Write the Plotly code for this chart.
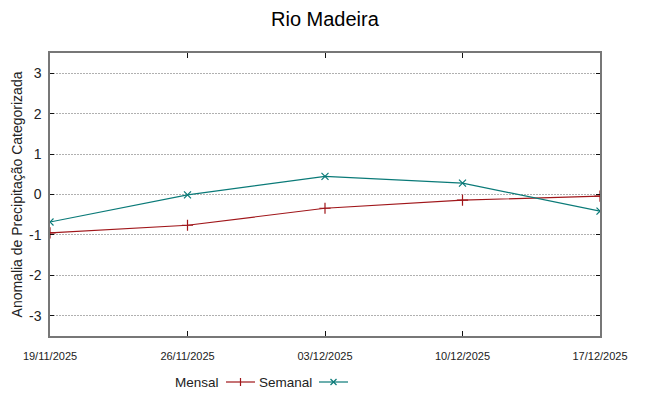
import plotly.graph_objects as go

dates = ["2025-11-19", "2025-11-26", "2025-12-03", "2025-12-10", "2025-12-17"]
tick_labels = ["19/11/2025", "26/11/2025", "03/12/2025", "10/12/2025", "17/12/2025"]
mensal = [-0.95, -0.76, -0.34, -0.14, -0.04]
semanal = [-0.68, -0.01, 0.45, 0.28, -0.41]
y_ticks = [-3, -2, -1, 0, 1, 2, 3]
y_tick_labels = ["-3", "-2", "-1", "0", "1", "2", "3"]

RED = "#a0161a"
TEAL = "#0a7a78"
FONT = "Liberation Sans"
NARROW = "Liberation Sans Narrow, Liberation Sans"

# plot area in pixels (for paper-coordinate conversions of legend/title)
L, R, T, B = 50, 600, 53, 336
W, H = R - L, B - T


def px(xp):
    return (xp - L) / W


def py(yp):
    return (B - yp) / H


fig = go.Figure()
fig.add_trace(go.Scatter(x=dates, y=mensal, mode="lines+markers", name="Mensal",
                         line=dict(color=RED, width=1.2),
                         marker=dict(symbol="cross-thin", size=8, line=dict(color=RED, width=1.2)),
                         showlegend=False))
fig.add_trace(go.Scatter(x=dates, y=semanal, mode="lines+markers", name="Semanal",
                         line=dict(color=TEAL, width=1.2),
                         marker=dict(symbol="x-thin", size=7, line=dict(color=TEAL, width=1.2)),
                         showlegend=False))

# manual gnuplot-style legend (text then sample line with marker)
LEG_Y = 382
legend_items = [("Mensal", RED, "+", 221, 226, 255),
                ("Semanal", TEAL, "x", 314, 319, 348)]
for name, col, sym, tx, x0, x1 in legend_items:
    fig.add_annotation(x=px(tx), y=py(LEG_Y), xref="paper", yref="paper", text=name,
                       showarrow=False, xanchor="right", yanchor="middle",
                       font=dict(family=NARROW, size=13.5, color="#222222"))
    fig.add_shape(type="line", xref="paper", yref="paper",
                  x0=px(x0), x1=px(x1), y0=py(LEG_Y), y1=py(LEG_Y),
                  line=dict(color=col, width=1.2))
    cx = (x0 + x1) / 2
    if sym == "+":
        fig.add_shape(type="line", xref="paper", yref="paper",
                      x0=px(cx), x1=px(cx), y0=py(LEG_Y - 4), y1=py(LEG_Y + 4),
                      line=dict(color=col, width=1.2))
    else:
        fig.add_shape(type="line", xref="paper", yref="paper",
                      x0=px(cx - 3), x1=px(cx + 3), y0=py(LEG_Y - 3), y1=py(LEG_Y + 3),
                      line=dict(color=col, width=1.2))
        fig.add_shape(type="line", xref="paper", yref="paper",
                      x0=px(cx - 3), x1=px(cx + 3), y0=py(LEG_Y + 3), y1=py(LEG_Y - 3),
                      line=dict(color=col, width=1.2))

fig.add_annotation(x=0.5, y=py(19), xref="paper", yref="paper", text="Rio Madeira",
                   showarrow=False, xanchor="center", yanchor="middle",
                   font=dict(family=FONT, size=20, color="black"))

fig.update_layout(
    width=648, height=396,
    margin=dict(l=L, r=648 - R, t=T, b=396 - B, autoexpand=False),
    paper_bgcolor="white", plot_bgcolor="white",
    font=dict(family=FONT, color="#222222"),
    xaxis=dict(type="date", range=["2025-11-19", "2025-12-17"], tickvals=dates,
               ticktext=tick_labels, showgrid=False, zeroline=False,
               ticks="inside", ticklen=5, tickcolor="#111111", tickwidth=1,
               showline=True, linecolor="#777777", linewidth=1.5, mirror="ticks",
               automargin=False, ticklabelstandoff=9,
               tickfont=dict(family=NARROW, size=11, color="#222222")),
    yaxis=dict(range=[-3.5, 3.5], tickvals=y_ticks, ticktext=y_tick_labels, showgrid=True,
               gridcolor="#b0b0b0", griddash="2px,1px", gridwidth=1, zeroline=False,
               ticks="inside", ticklen=4, tickcolor="#111111", tickwidth=1,
               showline=True, linecolor="#777777", linewidth=1.5, mirror="ticks",
               automargin=False, ticklabelstandoff=4,
               tickfont=dict(family=FONT, size=14, color="#222222"),
               title=dict(text="Anomalia de Precipitação Categorizada", standoff=3,
                          font=dict(family=FONT, size=14, color="#222222"))),
)
fig.write_html("out.html", config={"displayModeBar": False},
               post_script="document.body.style.margin='0';")
